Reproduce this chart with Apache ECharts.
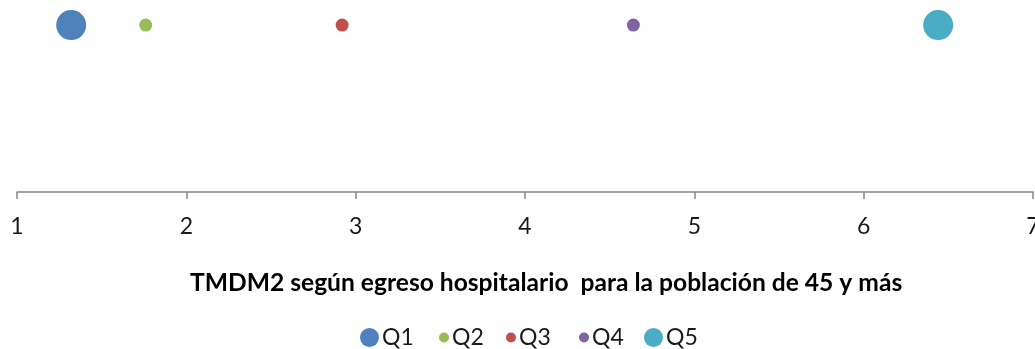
<!DOCTYPE html>
<html>
<head>
<meta charset="utf-8">
<style>
  html, body { margin: 0; padding: 0; background: #ffffff; }
  #chart { width: 1035px; height: 349px; }
</style>
<script src="https://cdn.jsdelivr.net/npm/echarts@6/dist/echarts.min.js"></script>
</head>
<body>
<div id="chart"></div>
<script>
// Quintiles and their TMDM2 value (hospital discharges, population 45+)
const quintiles = ['Q1', 'Q2', 'Q3', 'Q4', 'Q5'];
const tmdm2 = [1.32, 1.76, 2.92, 4.64, 6.44];
const xTicks = [1, 2, 3, 4, 5, 6, 7];
const chartTitle = 'TMDM2 según egreso hospitalario  para la población de 45 y más';

// Marker look per quintile
const colors = ['#4F81BD', '#9BBB59', '#C0504D', '#8064A2', '#4BACC6'];
const markerSizes = [30, 13, 13, 13, 30];
const legendIconSizes = [19, 10, 10, 10, 19];
const legendLefts = [360, 439, 506, 579, 644];

const FONT = 'Lato, "Open Sans", sans-serif';

const chart = echarts.init(document.getElementById('chart'), null, { renderer: 'canvas' });

const series = quintiles.map((q, i) => ({
  name: q,
  type: 'scatter',
  data: [[tmdm2[i], 1]],
  symbol: 'circle',
  symbolSize: markerSizes[i],
  itemStyle: { color: colors[i], opacity: 1 },
  emphasis: { disabled: true },
  silent: true
}));

const legends = quintiles.map((q, i) => ({
  data: [q],
  left: legendLefts[i],
  top: 326,
  orient: 'horizontal',
  icon: 'circle',
  itemWidth: legendIconSizes[i],
  itemHeight: 20,
  padding: 0,
  selectedMode: false,
  textStyle: { fontFamily: FONT, fontSize: 23, color: '#1a1a1a', padding: [0, 0, 0, -2] }
}));

chart.setOption({
  animation: false,
  backgroundColor: '#ffffff',
  title: {
    text: chartTitle,
    left: 190,
    top: 271,
    padding: 0,
    textStyle: { fontFamily: FONT, fontSize: 24.6, fontWeight: 'bold', color: '#000000' }
  },
  legend: legends,
  grid: { left: 17, right: 2, top: 0, bottom: 157, containLabel: false, outerBoundsMode: 'none' },
  xAxis: {
    type: 'value',
    min: xTicks[0],
    max: xTicks[xTicks.length - 1],
    interval: 1,
    axisLine: { show: true, lineStyle: { color: '#868686', width: 1.5 } },
    axisTick: { show: true, length: 7, inside: false, lineStyle: { color: '#868686', width: 1.5 } },
    axisLabel: {
      margin: 23,
      fontFamily: FONT,
      fontSize: 23,
      color: '#1a1a1a',
      showMinLabel: true,
      showMaxLabel: true,
      hideOverlap: false,
      formatter: v => String(v)
    },
    splitLine: { show: false }
  },
  yAxis: {
    type: 'value',
    min: 0,
    max: 1.15,
    show: false
  },
  series: series
});
</script>
</body>
</html>
